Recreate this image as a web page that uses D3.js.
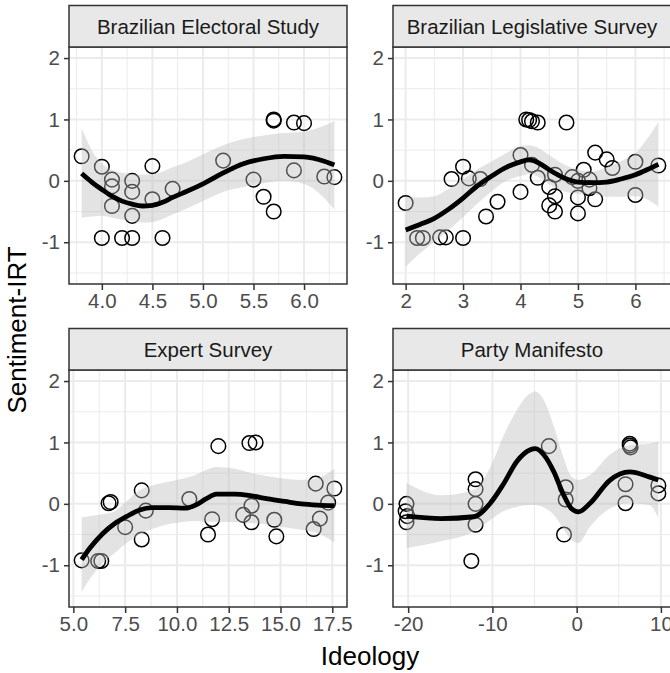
<!DOCTYPE html>
<html>
<head>
<meta charset="utf-8">
<script src="https://cdn.jsdelivr.net/npm/d3@7"></script>
<style>
  body { margin: 0; background: #fff; }
  svg { display: block; font-family: "Liberation Sans", Arial, sans-serif; }
</style>
</head>
<body>
<svg id="chart" width="670" height="673"></svg>
<script>
// ---- data ----
var facetNames = ["Brazilian Electoral Study", "Brazilian Legislative Survey", "Expert Survey", "Party Manifesto"];

// Brazilian Electoral Study
var eleX = [3.8, 4.0, 4.1, 4.1, 4.1, 4.3, 4.3, 4.3, 4.5, 4.5, 4.7, 4.0, 4.2, 4.3, 4.6, 5.2, 5.5, 5.6, 5.7, 5.7, 5.7, 5.9, 6.0, 5.9, 6.2, 6.3];
var eleY = [0.40, 0.23, 0.02, -0.09, -0.41, 0.0, -0.18, -0.57, 0.24, -0.30, -0.13, -0.93, -0.93, -0.93, -0.93, 0.33, 0.02, -0.26, -0.50, 1.00, 0.98, 0.95, 0.94, 0.17, 0.07, 0.06];
var eleSmX   = [3.8, 3.9, 4.0, 4.1, 4.2, 4.3, 4.4, 4.5, 4.6, 4.7, 4.8, 5.0, 5.2, 5.4, 5.6, 5.8, 6.0, 6.2, 6.3];
var eleSmFit = [0.12, -0.02, -0.14, -0.25, -0.33, -0.38, -0.41, -0.40, -0.35, -0.27, -0.20, -0.05, 0.13, 0.28, 0.36, 0.40, 0.39, 0.32, 0.26];
var eleSmHi  = [0.86, 0.50, 0.28, 0.18, 0.13, 0.11, 0.10, 0.11, 0.15, 0.22, 0.28, 0.43, 0.58, 0.68, 0.74, 0.78, 0.80, 0.90, 0.97];
var eleSmLo  = [-0.60, -0.58, -0.57, -0.60, -0.63, -0.66, -0.68, -0.67, -0.62, -0.55, -0.48, -0.33, -0.18, -0.10, -0.04, 0.0, -0.05, -0.28, -0.47];
var eleTicks = [4.0, 4.5, 5.0, 5.5, 6.0];
var eleTickLabels = ["4.0", "4.5", "5.0", "5.5", "6.0"];

// Brazilian Legislative Survey
var legX = [2.0, 2.2, 2.3, 2.6, 2.7, 3.0, 2.8, 3.0, 3.1, 3.3, 3.4, 3.6, 4.0, 4.0, 4.1, 4.15, 4.2, 4.3, 4.8, 4.2, 4.3, 4.5, 4.6, 4.6, 4.5, 4.6, 4.9, 5.0, 5.0, 5.0, 5.1, 5.2, 5.2, 5.3, 5.3, 5.5, 5.6, 6.0, 6.0, 6.4];
var legY = [-0.36, -0.93, -0.93, -0.92, -0.92, -0.93, 0.03, 0.23, 0.04, 0.03, -0.58, -0.34, -0.18, 0.42, 1.00, 0.99, 0.97, 0.95, 0.95, 0.26, 0.05, -0.10, 0.10, -0.25, -0.40, -0.50, 0.06, 0.0, -0.27, -0.53, 0.18, 0.02, -0.12, -0.30, 0.46, 0.35, 0.21, 0.31, -0.23, 0.25];
var legSmX   = [2.0, 2.25, 2.5, 2.75, 3.0, 3.25, 3.5, 3.75, 4.0, 4.15, 4.3, 4.5, 4.75, 5.0, 5.25, 5.5, 5.75, 6.0, 6.2, 6.4];
var legSmFit = [-0.80, -0.71, -0.61, -0.46, -0.28, -0.08, 0.08, 0.22, 0.31, 0.34, 0.30, 0.18, 0.05, -0.02, -0.03, -0.02, 0.03, 0.10, 0.18, 0.27];
var legSmHi  = [-0.26, -0.27, -0.25, -0.13, 0.03, 0.19, 0.32, 0.45, 0.57, 0.58, 0.54, 0.42, 0.27, 0.18, 0.15, 0.22, 0.32, 0.45, 0.68, 0.96];
var legSmLo  = [-1.40, -1.18, -0.99, -0.80, -0.59, -0.37, -0.17, 0.00, 0.08, 0.11, 0.07, -0.06, -0.17, -0.21, -0.21, -0.26, -0.26, -0.25, -0.30, -0.42];
var legTicks = [2, 3, 4, 5, 6];
var legTickLabels = ["2", "3", "4", "5", "6"];

// Expert Survey
var expX = [5.4, 6.2, 6.35, 6.7, 6.8, 7.5, 8.3, 8.5, 8.3, 10.6, 11.7, 11.5, 12.0, 13.5, 13.8, 13.6, 13.2, 13.6, 14.7, 14.8, 16.7, 16.6, 16.9, 17.3, 17.6];
var expY = [-0.92, -0.93, -0.93, 0.01, 0.03, -0.38, 0.22, -0.11, -0.58, 0.08, -0.25, -0.50, 0.94, 0.99, 1.00, -0.03, -0.18, -0.30, -0.26, -0.53, 0.33, -0.41, -0.24, 0.02, 0.25];
var expSmX   = [5.4, 5.8, 6.4, 7.0, 7.6, 8.2, 8.8, 9.6, 10.4, 10.9, 11.4, 11.9, 12.8, 13.6, 14.4, 15.2, 16.0, 16.8, 17.6];
var expSmFit = [-0.91, -0.72, -0.49, -0.32, -0.20, -0.10, -0.06, -0.06, -0.07, -0.02, 0.08, 0.16, 0.16, 0.13, 0.08, 0.04, 0.0, -0.02, -0.03];
var expSmHi  = [-0.22, -0.20, -0.17, -0.12, 0.05, 0.22, 0.30, 0.36, 0.42, 0.47, 0.55, 0.60, 0.57, 0.50, 0.45, 0.41, 0.39, 0.42, 0.57];
var expSmLo  = [-1.43, -1.22, -0.97, -0.80, -0.63, -0.50, -0.41, -0.33, -0.29, -0.28, -0.29, -0.29, -0.30, -0.31, -0.34, -0.38, -0.42, -0.48, -0.63];
var expTicks = [5, 7.5, 10, 12.5, 15, 17.5];
var expTickLabels = ["5.0", "7.5", "10.0", "12.5", "15.0", "17.5"];

// Party Manifesto
var parX = [-20.2, -20.3, -20.1, -20.2, -12, -12, -12, -12, -12.5, -3.3, -1.3, -1.3, -1.5, 6.3, 6.3, 6.4, 5.8, 5.8, 9.7, 9.7];
var parY = [0.0, -0.12, -0.2, -0.3, 0.40, 0.24, 0.0, -0.34, -0.93, 0.94, 0.27, 0.07, -0.50, 0.98, 0.95, 0.92, 0.32, 0.01, 0.30, 0.17];
var parSmX   = [-20.2, -16.1, -12.2, -10.2, -8.7, -7.1, -5.5, -4.9, -3.9, -2.7, -1.6, -0.6, 0.2, 1.6, 3.9, 6.3, 8.6, 9.7];
var parSmFit = [-0.20, -0.24, -0.21, 0.02, 0.32, 0.69, 0.88, 0.90, 0.80, 0.52, 0.16, -0.08, -0.13, 0.01, 0.38, 0.52, 0.44, 0.39];
var parSmHi  = [0.34, 0.14, 0.23, 0.61, 1.10, 1.53, 1.80, 1.83, 1.69, 1.26, 0.77, 0.44, 0.39, 0.47, 0.80, 0.96, 0.98, 1.01];
var parSmLo  = [-0.72, -0.61, -0.45, -0.26, -0.12, -0.05, -0.02, -0.02, -0.06, -0.18, -0.40, -0.59, -0.64, -0.37, -0.08, 0.01, -0.02, -0.23];
var parTicks = [-20, -10, 0, 10];
var parTickLabels = ["-20", "-10", "0", "10"];

var yTicks = [-1, 0, 1, 2];
var yTickLabels = ["-1", "0", "1", "2"];
var yDomain = [-1.68, 2.18];

var xTitle = "Ideology";
var yTitle = "Sentiment-IRT";

// ---- layout ----
var PANEL_W = 278, PANEL_H = 237, STRIP_H = 41.5;
var colX = [69, 393], rowY = [47, 370];
var TICK_FONT = "20.5px";

var svg = d3.select("#chart");

var facets = [
  { name: facetNames[0], x: eleX, y: eleY, sx: eleSmX, fit: eleSmFit, hi: eleSmHi, lo: eleSmLo, ticks: eleTicks, labels: eleTickLabels },
  { name: facetNames[1], x: legX, y: legY, sx: legSmX, fit: legSmFit, hi: legSmHi, lo: legSmLo, ticks: legTicks, labels: legTickLabels },
  { name: facetNames[2], x: expX, y: expY, sx: expSmX, fit: expSmFit, hi: expSmHi, lo: expSmLo, ticks: expTicks, labels: expTickLabels },
  { name: facetNames[3], x: parX, y: parY, sx: parSmX, fit: parSmFit, hi: parSmHi, lo: parSmLo, ticks: parTicks, labels: parTickLabels }
];

// minor breaks halfway between majors, like ggplot
function minors(ticks, domain) {
  var step = ticks[1] - ticks[0];
  var out = [];
  for (var k = -1; k <= ticks.length; k++) {
    var v = ticks[0] + (k + 0.5) * step;
    if (v > domain[0] && v < domain[1]) out.push(v);
  }
  return out;
}

facets.forEach(function(f, i) {
  var px = colX[i % 2], py = rowY[Math.floor(i / 2)];
  var ext = d3.extent(f.x), pad = (ext[1] - ext[0]) * 0.05;
  var x = d3.scaleLinear().domain([ext[0] - pad, ext[1] + pad]).range([0, PANEL_W]);
  var y = d3.scaleLinear().domain(yDomain).range([PANEL_H, 0]);

  var g = svg.append("g").attr("transform", "translate(" + px + "," + py + ")");

  g.append("clipPath").attr("id", "clip" + i)
    .append("rect").attr("width", PANEL_W).attr("height", PANEL_H);

  var plot = g.append("g").attr("clip-path", "url(#clip" + i + ")");

  // grid
  var grid = plot.append("g");
  grid.selectAll(".mx").data(minors(f.ticks, x.domain())).enter().append("line")
    .attr("x1", function(d) { return x(d); }).attr("x2", function(d) { return x(d); })
    .attr("y1", 0).attr("y2", PANEL_H)
    .attr("stroke", "#ebebeb").attr("stroke-width", 1);
  grid.selectAll(".my").data(minors(yTicks, yDomain)).enter().append("line")
    .attr("y1", function(d) { return y(d); }).attr("y2", function(d) { return y(d); })
    .attr("x1", 0).attr("x2", PANEL_W)
    .attr("stroke", "#ebebeb").attr("stroke-width", 1);
  grid.selectAll(".Mx").data(f.ticks).enter().append("line")
    .attr("x1", function(d) { return x(d); }).attr("x2", function(d) { return x(d); })
    .attr("y1", 0).attr("y2", PANEL_H)
    .attr("stroke", "#ebebeb").attr("stroke-width", 2);
  grid.selectAll(".My").data(yTicks).enter().append("line")
    .attr("y1", function(d) { return y(d); }).attr("y2", function(d) { return y(d); })
    .attr("x1", 0).attr("x2", PANEL_W)
    .attr("stroke", "#ebebeb").attr("stroke-width", 2);

  // points (under the ribbon, as geom_point comes first)
  plot.selectAll("circle").data(f.x).enter().append("circle")
    .attr("cx", function(d) { return x(d); })
    .attr("cy", function(d, k) { return y(f.y[k]); })
    .attr("r", 7.3)
    .attr("fill", "none")
    .attr("stroke", "#000")
    .attr("stroke-width", 1.5);

  // smooth ribbon + line
  var area = d3.area()
    .x(function(d) { return x(d); })
    .y0(function(d, k) { return y(f.lo[k]); })
    .y1(function(d, k) { return y(f.hi[k]); })
    .curve(d3.curveMonotoneX);
  plot.append("path").datum(f.sx)
    .attr("d", area)
    .attr("fill", "#bdbdbd")
    .attr("fill-opacity", 0.42);

  var line = d3.line()
    .x(function(d) { return x(d); })
    .y(function(d, k) { return y(f.fit[k]); })
    .curve(d3.curveMonotoneX);
  plot.append("path").datum(f.sx)
    .attr("d", line)
    .attr("fill", "none")
    .attr("stroke", "#000")
    .attr("stroke-width", 4.8);

  // panel border
  g.append("rect").attr("width", PANEL_W).attr("height", PANEL_H)
    .attr("fill", "none").attr("stroke", "#333").attr("stroke-width", 1.5);

  // strip
  g.append("rect").attr("x", 0).attr("y", -STRIP_H).attr("width", PANEL_W).attr("height", STRIP_H)
    .attr("fill", "#e8e8e8").attr("stroke", "#333").attr("stroke-width", 1.5);
  g.append("text")
    .attr("x", PANEL_W / 2).attr("y", -STRIP_H / 2 + 7.4)
    .attr("text-anchor", "middle")
    .attr("fill", "#1a1a1a")
    .style("font-size", TICK_FONT)
    .text(f.name);

  // axes
  var xAxis = g.append("g").attr("transform", "translate(0," + PANEL_H + ")")
    .call(d3.axisBottom(x).tickValues(f.ticks)
      .tickFormat(function(d, k) { return f.labels[k]; })
      .tickSize(6).tickPadding(3).tickSizeOuter(0));
  var yAxis = g.append("g")
    .call(d3.axisLeft(y).tickValues(yTicks)
      .tickFormat(function(d, k) { return yTickLabels[k]; })
      .tickSize(5).tickPadding(4).tickSizeOuter(0));
  [xAxis, yAxis].forEach(function(a) {
    a.select(".domain").remove();
    a.selectAll(".tick line").attr("stroke", "#333").attr("stroke-width", 1.5);
    a.selectAll(".tick text")
      .attr("fill", "#4d4d4d")
      .style("font-family", "'Liberation Sans', Arial, sans-serif")
      .style("font-size", TICK_FONT);
  });
});

// axis titles
svg.append("text")
  .attr("x", 370).attr("y", 665)
  .attr("text-anchor", "middle")
  .style("font-size", "26px")
  .attr("fill", "#000")
  .text(xTitle);

svg.append("text")
  .attr("transform", "translate(26,330) rotate(-90)")
  .attr("text-anchor", "middle")
  .style("font-size", "26px")
  .attr("fill", "#000")
  .text(yTitle);
</script>
</body>
</html>
